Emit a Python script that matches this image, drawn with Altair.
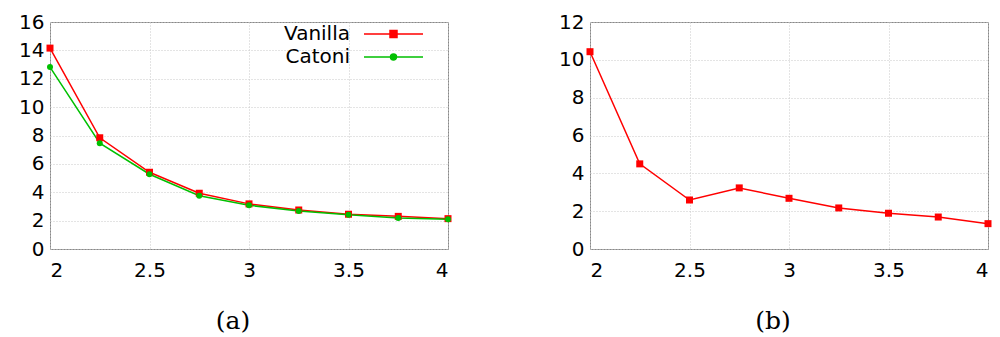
import altair as alt
import pandas as pd

x_vals = [2.0, 2.25, 2.5, 2.75, 3.0, 3.25, 3.5, 3.75, 4.0]
vanilla_a = [14.16, 7.84, 5.41, 3.93, 3.18, 2.75, 2.45, 2.30, 2.14]
catoni_a = [12.82, 7.46, 5.27, 3.76, 3.08, 2.68, 2.42, 2.19, 2.09]
vanilla_b = [10.43, 4.50, 2.59, 3.23, 2.68, 2.17, 1.89, 1.69, 1.34]

series_names = ["Vanilla", "Catoni"]
series_colors = ["#ff0000", "#00c000"]
x_ticks = [2, 2.5, 3, 3.5, 4]
y_ticks_a = [0, 2, 4, 6, 8, 10, 12, 14, 16]
y_ticks_b = [0, 2, 4, 6, 8, 10, 12]

df_a = pd.DataFrame(
    {
        "x": x_vals * 2,
        "y": vanilla_a + catoni_a,
        "series": ["Vanilla"] * len(x_vals) + ["Catoni"] * len(x_vals),
    }
)
df_b = pd.DataFrame({"x": x_vals, "y": vanilla_b})

W, H = 398, 227
FONT = "DejaVu Sans"
FS = 20

# legend glyphs: line sample with marker, drawn to the right of the label
path_v = "M2.304,0H7.435M4.566,-0.304H5.174V0.304H4.566Z"
path_c = "M2.304,0H7.435M5.131,0A0.261,0.261,0,1,1,4.609,0A0.261,0.261,0,1,1,5.131,0Z"

color_scale = alt.Scale(domain=series_names, range=series_colors)


def xenc():
    return alt.X(
        "x:Q",
        scale=alt.Scale(domain=[2, 4], nice=False, zero=False),
        axis=alt.Axis(values=x_ticks, format="~g", title=None),
    )


def yenc(maxv, ticks):
    return alt.Y(
        "y:Q",
        scale=alt.Scale(domain=[0, maxv], nice=False),
        axis=alt.Axis(values=ticks, title=None),
    )


col_expr = f"datum.value == '{series_names[0]}' ? '{series_colors[0]}' : '{series_colors[1]}'"

legend_a = alt.Legend(
    title=None,
    orient="none",
    legendX=275,
    legendY=-0.5,
    symbolType=alt.ExprRef(expr=f"datum.value == '{series_names[0]}' ? '{path_v}' : '{path_c}'"),
    symbolFillColor=alt.ExprRef(expr=col_expr),
    symbolStrokeColor=alt.ExprRef(expr=col_expr),
    symbolSize=529,
    symbolStrokeWidth=1.5,
    symbolOpacity=1,
    symbolOffset=0,
    rowPadding=0,
    padding=0,
    labelAlign="right",
    labelOffset=0,
    labelFont=FONT,
    labelFontSize=FS,
    labelColor="#000000",
    labelLimit=300,
)

# Panel (a)
lines_a = alt.Chart(df_a).mark_line(strokeWidth=1.5).encode(
    x=xenc(),
    y=yenc(16, y_ticks_a),
    color=alt.Color("series:N", scale=color_scale, legend=legend_a, sort=series_names),
)
pts_v = (
    alt.Chart(df_a)
    .transform_filter(alt.datum.series == "Vanilla")
    .mark_point(filled=True, shape="square", size=49, opacity=1, color="#ff0000")
    .encode(x=xenc(), y=yenc(16, y_ticks_a))
)
pts_c = (
    alt.Chart(df_a)
    .transform_filter(alt.datum.series == "Catoni")
    .mark_point(filled=True, shape="circle", size=36, opacity=1, color="#00c000")
    .encode(x=xenc(), y=yenc(16, y_ticks_a))
)

panel_a = alt.layer(lines_a, pts_v, pts_c).properties(
    width=W,
    height=H,
    title=alt.TitleParams("(a)", orient="bottom", dx=-16),
)

# Panel (b)
lines_b = alt.Chart(df_b).mark_line(strokeWidth=1.5, color="#ff0000").encode(
    x=xenc(), y=yenc(12, y_ticks_b)
)
pts_b = alt.Chart(df_b).mark_point(filled=True, shape="square", size=49, opacity=1, color="#ff0000").encode(
    x=xenc(), y=yenc(12, y_ticks_b)
)
panel_b = alt.layer(lines_b, pts_b).properties(
    width=W,
    height=H,
    title=alt.TitleParams("(b)", orient="bottom", dx=-16),
)

chart = (
    alt.hconcat(panel_a, panel_b, spacing=96)
    .resolve_scale(color="independent")
    .properties(padding={"left": 0, "top": 3, "right": 0, "bottom": 0})
    .configure_view(stroke="#888888", strokeWidth=1)
    .configure_axis(
        labelFont=FONT,
        labelFontSize=FS,
        labelColor="#000000",
        labelOverlap=False,
        domain=False,
        ticks=False,
        grid=True,
        gridColor="#c8c8c8",
        gridDash=[1, 2],
        gridWidth=1,
    )
    .configure_axisY(labelPadding=6, minExtent=41)
    .configure_axisX(labelPadding=11)
    .configure_title(font="DejaVu Serif", fontSize=25, fontWeight="normal", color="#000000", offset=29)
)

chart.save("out.html", embed_options={"renderer": "svg", "actions": False})
